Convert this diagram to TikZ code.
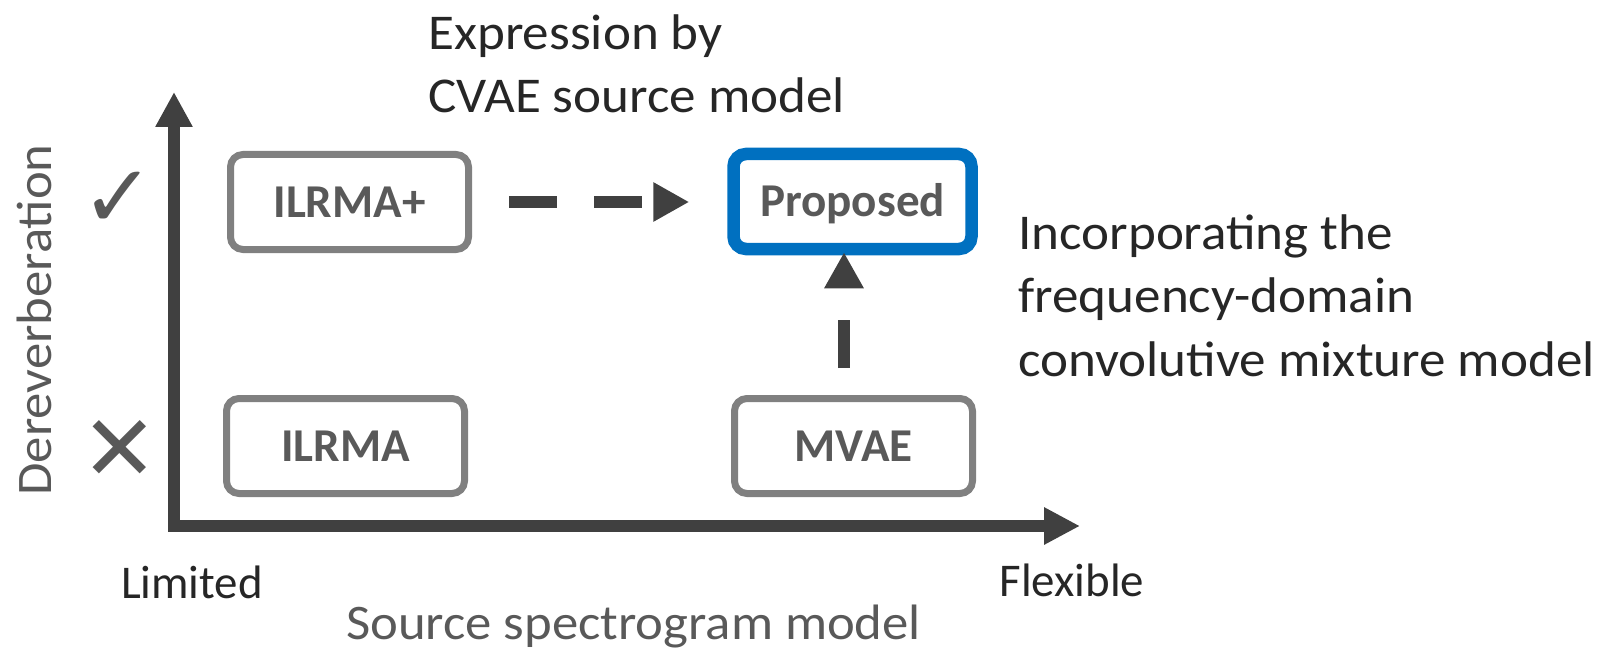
\documentclass[tikz,border=0pt]{standalone}
\usepackage{fontspec}
\setmainfont{Carlito}
\newfontfamily\notefont{Carlito}[FakeStretch=1.06]
\newfontfamily\symfont{DejaVu Sans}
\usetikzlibrary{arrows.meta,positioning}
\definecolor{axisgray}{HTML}{404040}
\definecolor{boxgray}{HTML}{808080}
\definecolor{labelgray}{HTML}{595959}
\definecolor{textdark}{HTML}{262626}
\definecolor{propblue}{HTML}{0070C0}
\begin{document}
\begin{tikzpicture}[x=1cm,y=1cm]
\tikzset{
  methodbox/.style={rectangle,rounded corners=0.25cm,draw=boxgray,line width=0.14cm,minimum width=4.76cm,minimum height=1.9cm,inner sep=0pt,text height=0.6cm,text depth=0pt,font=\fontsize{26.8}{32}\selectfont\bfseries,text=labelgray},
  proposedbox/.style={methodbox,draw=propblue,line width=0.25cm},
  axisline/.style={draw=axisgray,line width=0.24cm,line join=miter,{Triangle[length=0.7cm,width=0.7cm]}-{Triangle[length=0.72cm,width=0.7cm]}},
  dasharrow/.style={draw=axisgray,line width=0.25cm,dash pattern=on 0.96cm off 0.74cm,-{Triangle[length=0.72cm,width=0.74cm]}},
  note/.style={font=\notefont\fontsize{28.5}{36.3}\selectfont,text=textdark,align=left,inner sep=0pt},
  endlabel/.style={font=\fontsize{26.7}{32}\selectfont,text=textdark,inner sep=0pt},
  axislabel/.style={font=\notefont\fontsize{28.3}{34}\selectfont,text=labelgray,inner sep=0pt},
  ticksym/.style={font=\symfont\fontsize{52}{52}\selectfont,text=labelgray,inner sep=0pt}
}
\useasboundingbox (0,0) rectangle (32.1,12.98);
% axes
\coordinate (c_ytip) at (3.48,11.14);
\coordinate (c_origin) at (3.48,2.46);
\coordinate (c_xtip) at (21.6,2.46);
\draw[axisline] (c_ytip) -- (c_origin) -- (c_xtip);
% methods
\node[methodbox] (n_ilrmaplus) at (6.99,8.94) {ILRMA+};
\node[methodbox] (n_ilrma) at (6.91,4.06) {ILRMA};
\node[proposedbox] (n_proposed) at (17.05,8.95) {Proposed};
\node[methodbox] (n_mvae) at (17.07,4.06) {MVAE};
\draw[dasharrow,shorten <=0.74cm,shorten >=0.76cm] (n_ilrmaplus.east) -- (n_ilrmaplus.east -| n_proposed.west);
\draw[dasharrow,shorten <=0.54cm,shorten >=-0.06cm] ([xshift=-0.19cm]n_mvae.north) -- ([xshift=-0.19cm]n_mvae.north |- n_proposed.south);
% labels
\node[note,anchor=north west] (n_expr) at (8.56,12.7) {Expression by\\CVAE source model};
\node[note,anchor=north west] (n_incorp) at (20.36,8.7) {Incorporating the\\frequency-domain\\convolutive mixture model};
\node[ticksym,font=\symfont\bfseries\fontsize{50}{50}\selectfont] (n_yes) at (2.37,8.99) {✓};
\node[ticksym] (n_no) at (2.39,3.97) {✕};
\node[axislabel,rotate=90,anchor=base] (n_ylabel) at (1.02,6.58) {Dereverberation};
\node[endlabel,anchor=base] (n_limited) at (3.84,1.02) {Limited};
\node[endlabel,anchor=base] (n_flexible) at (21.44,1.06) {Flexible};
\node[axislabel,anchor=base] (n_xlabel) at (12.67,0.2) {Source spectrogram model};
\end{tikzpicture}
\end{document}
